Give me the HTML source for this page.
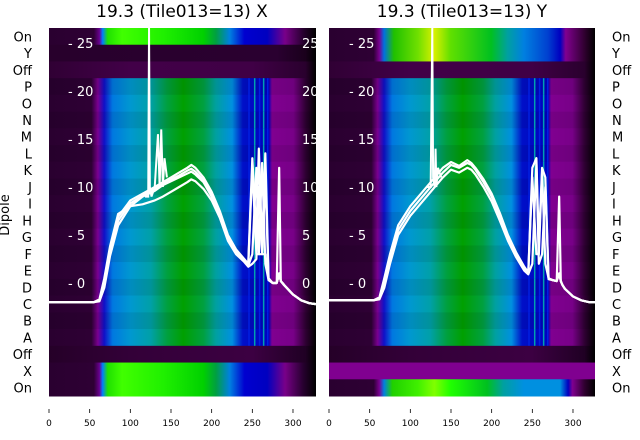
<!DOCTYPE html>
<html><head><meta charset="utf-8"><style>
html,body{margin:0;padding:0;background:#fff;width:640px;height:440px;overflow:hidden}
svg text{font-family:"DejaVu Sans","Liberation Sans",sans-serif}
</style></head><body>
<svg id="chart" width="640" height="440" xmlns="http://www.w3.org/2000/svg">
<defs id="defs"></defs>
<g id="left"></g>
<g id="right"></g>
<g id="labels"></g>
</svg>
<script>
var rowLabels = ["On","Y","Off","P","O","N","M","L","K","J","I","H","G","F","E","D","C","B","A","Off","X","On"];
var leftRowTypes = ["on","dark","offp","dip","dip","dip","dip","dip","dip","dip","dip","dip","dip","dip","dip","dip","dip","dip","dip","offd","on","on"];
var rightRowTypes = ["onY","onY","offp","dip","dip","dip","dip","dip","dip","dip","dip","dip","dip","dip","dip","dip","dip","dip","dip","offd","purple","onB"];
var xTicks = [0,50,100,150,200,250,300];
var yTicks = [0,5,10,15,20,25];
var xs = [0,55,62,68,75,85,100,115,130,140,150,160,170,175,180,190,200,210,220,230,240,245,250,255,258,262,266,270,275,280,283,285,287,290,300,310,320,328];
var leftC1 = [-2,-2,-1.8,0,3.4,6.9,8.6,9.3,10,10.5,11,11.5,12,12.3,12,11,9.5,7.5,5,3.5,2.5,2,13,5,14,4,13.5,0.5,0,0,12,0.2,0,-0.3,-1.2,-1.8,-2.1,-2.2];
var leftC2 = [-2,-2,-1.9,-0.5,2.8,6,8,9,9.6,10.2,10.6,11,11.4,11.6,11.3,10.5,9,7,4.6,3.2,2.3,1.8,3,12,3,12.5,2,0.3,0,0,1,0.2,0,-0.3,-1.2,-1.8,-2.1,-2.2];
var leftC3 = [-2,-2,-1.7,0.5,3.8,7.2,8,8.2,8.6,9,9.5,10,10.5,10.8,10.6,9.8,8.6,6.8,4.4,3,2.2,1.7,2,2.5,10,3,11,0.3,0,0,1,0.2,0,-0.3,-1.2,-1.8,-2.1,-2.2];
var leftC4 = [-2,-2,-1.8,0.2,3.2,6.5,8.3,9.1,9.8,10.3,10.8,11.2,11.7,11.9,11.6,10.7,9.2,7.2,4.8,3.3,2.4,1.9,12,3,3,3,3,0.4,0,0,1,0.2,0,-0.3,-1.2,-1.8,-2.1,-2.2];
var leftSpikeX = [118,122,123,124,126,130,134,136,138,140,142,145];
var leftSpikeY = [9,9,28,10,9,10,15.5,10,16,10,13,11];
var rightC1 = [-1.8,-1.8,-1.6,0,2.5,5.5,7.5,9,10.5,11.5,12.3,12,12.5,12.3,11.8,10.5,9,7,4.8,3,1.5,1,12,13,4,12,11,0.5,0.3,0.2,9,0.2,-0.2,-0.6,-1.4,-1.8,-2,-2];
var rightC2 = [-1.8,-1.8,-1.7,-0.5,2,5,7,8.5,10,11,11.8,11.5,12,11.8,11.3,10,8.5,6.5,4.4,2.7,1.3,0.9,2,12.5,2,3,10,0.4,0.3,0.2,1,0.2,-0.2,-0.6,-1.4,-1.8,-2,-2];
var rightC3 = [-1.8,-1.8,-1.5,0.5,3,6,8,9.5,11,12,12.6,12.2,12.8,12.5,12,10.8,9.3,7.3,5,3.2,1.7,1.1,11,3,3,11.5,2,0.5,0.3,0.2,1,0.2,-0.2,-0.6,-1.4,-1.8,-2,-2];
var rightSpikeX = [120,125,127,128,130,131,132,134,138];
var rightSpikeY = [10,10,28,11,10,14,10,12,11];

(function(){
var NS="http://www.w3.org/2000/svg";
var NR=22, topY=28, botY=396, rowH=(botY-topY)/NR;
var pxPerUnit=0.8133, yZero=283, yScale=9.6;
var panels={left:{x0:49,w:267},right:{x0:329,w:266}};
function mk(tag,attrs,parent){var e=document.createElementNS(NS,tag);for(var k in attrs)e.setAttribute(k,attrs[k]);if(parent)parent.appendChild(e);return e;}
var defs=document.getElementById('defs');
var profiles={
 dip:[[0,"#2a0030"],[52,"#2e0034"],[60,"#7a0090"],[68,"#1010c8"],[78,"#0078e0"],[100,"#0098d0"],[125,"#00a0a8"],[145,"#00a040"],[165,"#00a000"],[190,"#00a040"],[205,"#00a0a0"],[225,"#0090e0"],[238,"#0010c8"],[270,"#0000c0"],[274,"#800090"],[300,"#780088"],[315,"#300034"],[328,"#000000"]],
 on:[[0,"#2a0030"],[55,"#2e0034"],[62,"#6a0090"],[66,"#0080ff"],[72,"#20e000"],[90,"#40ff00"],[140,"#20f000"],[190,"#00d000"],[205,"#00a040"],[222,"#0080e0"],[240,"#0000d0"],[268,"#0000c0"],[290,"#780088"],[312,"#280030"],[328,"#000000"]],
 onY:[[0,"#2a0030"],[55,"#2e0034"],[62,"#7a0090"],[68,"#0070e0"],[80,"#20c000"],[110,"#70e000"],[130,"#d8f000"],[150,"#60e000"],[200,"#00c020"],[220,"#00a0a0"],[240,"#0080e0"],[270,"#0040d0"],[285,"#0000c0"],[292,"#800090"],[315,"#300030"],[328,"#000000"]],
 onB:[[0,"#2a0030"],[55,"#2e0034"],[62,"#7a0090"],[68,"#0080e0"],[78,"#20d000"],[110,"#40f000"],[130,"#80ff00"],[150,"#20ff00"],[195,"#00c020"],[215,"#00a0a0"],[240,"#0090e0"],[285,"#0090e0"],[295,"#0000c0"],[300,"#800090"],[315,"#300030"],[328,"#000000"]],
 dark:[[0,"#28002c"],[280,"#2a0030"],[315,"#1a001c"],[328,"#000000"]],
 offp:[[0,"#300034"],[100,"#420048"],[250,"#400046"],[315,"#2a002e"],[328,"#000000"]],
 offd:[[0,"#250028"],[100,"#330038"],[250,"#3c0042"],[315,"#200024"],[328,"#000000"]],
 purple:[[0,"#800090"],[328,"#800090"]]
};
Object.keys(profiles).forEach(function(k){
 var g=mk('linearGradient',{id:'g-'+k,x1:0,x2:1,y1:0,y2:0},defs);
 profiles[k].forEach(function(p){mk('stop',{offset:(p[0]/328).toFixed(3),'stop-color':p[1]},g);});
});
function build(id,types,curves,spx,spy,labelX){
 var P=panels[id], g=document.getElementById(id);
 var sx=function(u){return P.x0+u*pxPerUnit;}, sy=function(v){return Math.max(topY,yZero-v*yScale);};
 var cp=mk('clipPath',{id:'clip-'+id},defs); mk('rect',{x:P.x0,y:topY,width:P.w,height:botY-topY},cp);
 types.forEach(function(t,i){
  var r=mk('rect',{x:P.x0,y:topY+i*rowH,width:P.w,height:rowH+0.5,fill:'url(#g-'+t+')'},g);
  
  
  if(t==='dip'){
   if(i%2){var sh=mk('rect',{x:P.x0,y:topY+i*rowH,width:P.w,height:rowH,fill:'#000',opacity:0.08},g);
    
    }
   [245,252,258,263,268].forEach(function(u,j){var s=mk('rect',{x:sx(u),y:topY+i*rowH,width:1.5,height:rowH+0.5,fill:j%2?'#00a0b0':'#0020e0'},g);
    
    });
  }
 });
 yTicks.forEach(function(v){
  var y=yZero-v*yScale;
  var t=mk('text',{x:labelX,y:y+5,fill:'#fff','font-size':13},g); t.textContent='- '+v;
  
  
  if(id==='left'){var t2=mk('text',{x:302,y:y+5,fill:'#fff','font-size':13},g);t2.textContent=v;
   
   }
 });
 var lg=mk('g',{'clip-path':'url(#clip-'+id+')'},g);
 curves.forEach(function(c,ci){
  var p=mk('polyline',{points:xs.map(function(u,k){return sx(u)+','+sy(c[k]);}).join(' '),fill:'none',stroke:'#fff','stroke-width':2.2,'stroke-linejoin':'round'},lg);
  
  
 });
 var sp=mk('polyline',{points:spx.map(function(u,k){return sx(u)+','+sy(spy[k]);}).join(' '),fill:'none',stroke:'#fff','stroke-width':2},lg);
 
 
 xTicks.forEach(function(u){
  mk('line',{x1:sx(u),x2:sx(u),y1:409,y2:413,stroke:'#000','stroke-width':0.8},g);
  var t=mk('text',{x:sx(u),y:426,'font-size':9,'text-anchor':'middle',fill:'#000'},g);t.textContent=u;
  
  
 });
}
build('left',leftRowTypes,[leftC1,leftC2,leftC3,leftC4],leftSpikeX,leftSpikeY,68);
var gap=mk('rect',{x:316,y:0,width:13,height:400,fill:'#fff'},document.getElementById('right'));


build('right',rightRowTypes,[rightC1,rightC2,rightC3],rightSpikeX,rightSpikeY,349);
var L=document.getElementById('labels');
rowLabels.forEach(function(s,i){
 var y=topY+(i+0.5)*rowH+5;
 var a=mk('text',{x:32,y:y,'font-size':13,'text-anchor':'end',fill:'#000'},L);a.textContent=s;
 
 
 var b=mk('text',{x:612,y:y,'font-size':13,fill:'#000'},L);b.textContent=s;
 
 
});
var t1=mk('text',{x:182,y:17,'font-size':17,'text-anchor':'middle',fill:'#000'},L);t1.textContent='19.3 (Tile013=13) X';


var t2=mk('text',{x:462,y:17,'font-size':17,'text-anchor':'middle',fill:'#000'},L);t2.textContent='19.3 (Tile013=13) Y';


var yl=mk('text',{x:0,y:0,'font-size':13,'text-anchor':'middle',fill:'#000',transform:'translate(9,215) rotate(-90)'},L);yl.textContent='Dipole';


})();
</script>
</body></html>
